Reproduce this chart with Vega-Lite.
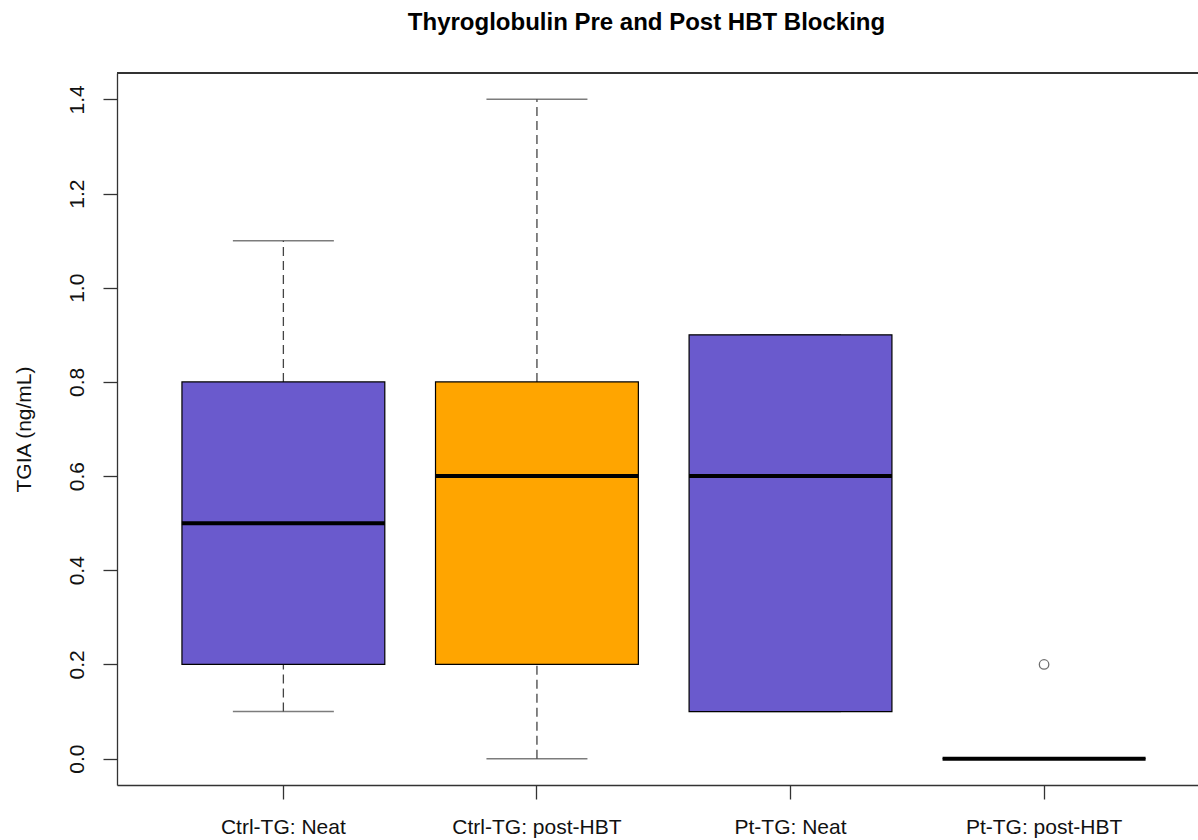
{
  "$schema": "https://vega.github.io/schema/vega-lite/v6.json",
  "width": 1081,
  "height": 712,
  "autosize": {"type": "none"},
  "padding": {"left": 117, "top": 73, "right": 0, "bottom": 55},
  "background": "white",
  "config": {
    "view": {"stroke": null},
    "font": "Liberation Sans",
    "axis": {"grid": false, "domainColor": "#333", "domainWidth": 1.3, "tickColor": "#333", "tickWidth": 1.3, "labelColor": "#111", "titleColor": "#111", "labelFont": "Liberation Sans", "titleFont": "Liberation Sans"}
  },
  "title": {
    "text": "Thyroglobulin Pre and Post HBT Blocking",
    "font": "Liberation Sans",
    "fontSize": 24,
    "fontWeight": "bold",
    "color": "#000",
    "anchor": "middle",
    "dx": -11,
    "offset": 18,
    "baseline": "alphabetic"
  },
  "datasets": {
    "boxes": [
      {"group": "Ctrl-TG: Neat", "condition": "Neat", "min": 0.1, "q1": 0.2, "median": 0.5, "q3": 0.8, "max": 1.1},
      {"group": "Ctrl-TG: post-HBT", "condition": "post-HBT", "min": 0.0, "q1": 0.2, "median": 0.6, "q3": 0.8, "max": 1.4},
      {"group": "Pt-TG: Neat", "condition": "Neat", "min": 0.1, "q1": 0.1, "median": 0.6, "q3": 0.9, "max": 0.9},
      {"group": "Pt-TG: post-HBT", "condition": "post-HBT", "min": 0.0, "q1": 0.0, "median": 0.0, "q3": 0.0, "max": 0.0}
    ],
    "outliers": [
      {"group": "Pt-TG: post-HBT", "value": 0.2}
    ]
  },
  "layer": [
    {
      "encoding": {
        "x": {
          "field": "group",
          "type": "nominal",
          "scale": {
            "type": "band",
            "domain": ["Ctrl-TG: Neat", "Ctrl-TG: post-HBT", "Pt-TG: Neat", "Pt-TG: post-HBT"],
            "paddingInner": 0.2,
            "paddingOuter": 0.2316,
            "align": 0.553
          },
          "axis": {
            "title": null,
            "labelAngle": 0,
            "labelFontSize": 21,
            "labelBaseline": "alphabetic",
            "labelPadding": 34,
            "tickSize": 14,
            "domain": true
          }
        }
      },
      "layer": [
        {
          "data": {"name": "boxes"},
          "mark": {"type": "rule", "strokeDash": [9, 5], "color": "#444", "strokeWidth": 1.3},
          "encoding": {
            "y": {
              "field": "min",
              "type": "quantitative",
              "scale": {"domain": [-0.056, 1.456], "nice": false, "zero": false},
              "axis": {
                "title": "TGIA (ng/mL)",
                "titleFontSize": 21,
                "titleFontWeight": "normal",
                "titlePadding": 32,
                "values": [0, 0.2, 0.4, 0.6, 0.8, 1.0, 1.2, 1.4],
                "format": ".1f",
                "labelFontSize": 21,
                "labelAngle": 270,
                "labelAlign": "center",
                "labelBaseline": "alphabetic",
                "labelPadding": 20,
                "tickSize": 14,
                "domain": true
              }
            },
            "y2": {"field": "q1"}
          }
        },
        {
          "data": {"name": "boxes"},
          "mark": {"type": "rule", "strokeDash": [9, 5], "color": "#444", "strokeWidth": 1.3},
          "encoding": {
            "y": {"field": "q3", "type": "quantitative"},
            "y2": {"field": "max"}
          }
        },
        {
          "data": {"name": "boxes"},
          "mark": {"type": "tick", "size": 101, "thickness": 1.5, "color": "#444"},
          "encoding": {"y": {"field": "min", "type": "quantitative"}}
        },
        {
          "data": {"name": "boxes"},
          "mark": {"type": "tick", "size": 101, "thickness": 1.5, "color": "#444"},
          "encoding": {"y": {"field": "max", "type": "quantitative"}}
        },
        {
          "data": {"name": "boxes"},
          "mark": {"type": "bar", "stroke": "#000", "strokeWidth": 1.2},
          "encoding": {
            "y": {"field": "q1", "type": "quantitative"},
            "y2": {"field": "q3"},
            "fill": {
              "field": "condition",
              "type": "nominal",
              "scale": {"domain": ["Neat", "post-HBT"], "range": ["#6A5ACD", "#FFA500"]},
              "legend": null
            }
          }
        },
        {
          "data": {"name": "boxes"},
          "mark": {"type": "tick", "size": 203, "thickness": 4, "color": "#000", "opacity": 1},
          "encoding": {"y": {"field": "median", "type": "quantitative"}}
        },
        {
          "data": {"name": "outliers"},
          "mark": {"type": "point", "filled": false, "size": 90, "stroke": "#333", "strokeWidth": 1.3},
          "encoding": {"y": {"field": "value", "type": "quantitative"}}
        }
      ]
    },
    {
      "data": {"name": "boxes"},
      "mark": {"type": "rule", "color": "#333", "strokeWidth": 1.3},
      "encoding": {"y": {"datum": 1.456}}
    }
  ]
}
